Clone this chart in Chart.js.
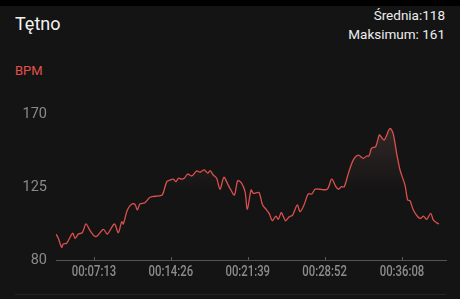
<!DOCTYPE html>
<html>
<head>
<meta charset="utf-8">
<script src="https://cdn.jsdelivr.net/npm/chart.js@4.4.1/dist/chart.umd.min.js"></script>
<style>
  html, body { margin: 0; padding: 0; background: #141414; }
  #wrap { position: relative; width: 460px; height: 299px; background: #141414; overflow: hidden; font-family: Roboto, "Noto Sans", sans-serif; }
  #topbar { position: absolute; left: 0; top: 0; width: 460px; height: 6px; background: #000; }
  #title { position: absolute; left: 15px; top: 13px; color: #f2f2f2; font-size: 18px; }
  #stats { position: absolute; right: 15px; top: 6px; color: #eeeeee; font-size: 13.5px; text-align: right; line-height: 19px; }
  #unit { position: absolute; left: 15px; top: 63px; color: #e0514d; font-size: 13px; }
  #footline { position: absolute; left: 15px; top: 294px; width: 431px; height: 1px; background: #232323; }
  canvas { position: absolute; left: 0; top: 0; }
</style>
</head>
<body>
<div id="wrap">
  <div id="topbar"></div>
  <div id="title">Tętno</div>
  <div id="stats">Średnia:118<br>Maksimum: 161</div>
  <div id="unit">BPM</div>
  <canvas id="hrChart" width="460" height="299"></canvas>
  <div id="footline"></div>
</div>
<script>
// --- Data (time in seconds, heart rate in BPM) ---
const times = [219, 232, 251, 260, 279, 313, 326, 345, 367, 388, 411, 444, 486, 508, 548, 570, 589, 598,
  621, 646, 664, 677, 692, 720, 749, 795, 818, 843, 861, 880, 895, 908, 927, 942, 961, 984, 1012, 1030,
  1054, 1074, 1087, 1105, 1124, 1143, 1165, 1186, 1199, 1224, 1243, 1265, 1284, 1297, 1318, 1331, 1350,
  1364, 1383, 1406, 1421, 1438, 1458, 1471, 1488, 1500, 1513, 1533, 1552, 1578, 1594, 1616, 1640, 1660,
  1678, 1706, 1747, 1772, 1796, 1810, 1828, 1843, 1866, 1894, 1922, 1950, 1969, 1982, 1997, 2020, 2040,
  2050, 2068, 2100, 2118, 2138, 2157, 2185, 2200, 2213, 2232, 2257, 2275, 2288, 2307, 2330, 2344, 2363, 2376];
const bpm = [96, 93.4, 87.8, 89.9, 90.3, 96.5, 93.4, 96, 96.8, 102.3, 98.1, 94.4, 98.9, 96, 102.2, 96.8, 103.6, 102.2,
  110.8, 114.5, 114.3, 110.8, 114.5, 115.3, 118.7, 119.5, 120.1, 128.3, 129.3, 129.8, 128.3, 130.4, 129.8, 130.4,
  133, 131.8, 134.9, 134.1, 135.5, 133.5, 135.1, 132.4, 130.4, 123.6, 131, 126.9, 124.2, 120.1, 128.9, 127.3,
  122.1, 111.3, 123.2, 121.1, 121.5, 121.5, 113.9, 110.8, 108.4, 104.2, 107.1, 105.1, 109.2, 106.7, 104.2,
  106.7, 107.7, 113.9, 109.8, 113.9, 120.7, 120.7, 123.6, 123.6, 123.6, 129.8, 125.2, 123.6, 125.2, 125.2,
  133.4, 141.7, 144.7, 142.7, 144.1, 144.1, 148.9, 149.9, 157.1, 156, 154, 161, 158.1, 145.8, 135.5, 126.2,
  117, 116.6, 110.8, 106.7, 105.7, 107.1, 105.1, 108.8, 104.7, 103, 102.2];

const xTicks = [433, 866, 1299, 1732, 2168];
const yTicks = [80, 125, 170];

const lineColor = '#d9504c';

function fmtTime(s) {
  const h = Math.floor(s / 3600);
  const m = Math.floor((s % 3600) / 60);
  const sec = s % 60;
  return [h, m, sec].map(n => String(n).padStart(2, '0')).join(':');
}

// small tick marks pointing up from the x axis line, plus narrow time labels
const timeAxis = {
  id: 'timeAxis',
  afterDatasetsDraw(chart) {
    const { ctx, chartArea, scales } = chart;
    ctx.save();
    ctx.strokeStyle = '#5a5a5a';
    ctx.lineWidth = 1;
    ctx.fillStyle = '#8c8c8c';
    ctx.font = '500 14.5px Roboto, sans-serif';
    ctx.textAlign = 'center';
    ctx.textBaseline = 'middle';
    xTicks.forEach(t => {
      const px = scales.x.getPixelForValue(t);
      const x = Math.round(px) + 0.5;
      ctx.beginPath();
      ctx.moveTo(x, chartArea.bottom);
      ctx.lineTo(x, chartArea.bottom - 3);
      ctx.stroke();
      // condensed look: squeeze horizontally
      ctx.save();
      ctx.translate(px, chartArea.bottom + 12);
      ctx.scale(0.78, 1);
      ctx.fillText(fmtTime(t), 0, 0);
      ctx.restore();
    });
    ctx.restore();
  }
};

const ctx = document.getElementById('hrChart').getContext('2d');
new Chart(ctx, {
  type: 'line',
  data: {
    datasets: [{
      data: times.map((t, i) => ({ x: t, y: bpm[i] })),
      borderColor: lineColor,
      borderWidth: 1.3,
      pointRadius: 0,
      tension: 0.3,
      fill: 'origin',
      backgroundColor: c => {
        const { chart } = c;
        if (!chart.chartArea) return 'transparent';
        const y = chart.scales.y;
        const g = chart.ctx.createLinearGradient(0, y.getPixelForValue(162), 0, y.getPixelForValue(122));
        g.addColorStop(0, 'rgba(210,150,140,0.16)');
        g.addColorStop(1, 'rgba(210,150,140,0)');
        return g;
      }
    }]
  },
  options: {
    responsive: false,
    animation: false,
    layout: { padding: { top: 114, right: 14, left: 0, bottom: 0 } },
    plugins: { legend: { display: false }, tooltip: { enabled: false } },
    scales: {
      x: {
        type: 'linear',
        min: 219,
        max: 2416,
        afterBuildTicks: s => { s.ticks = xTicks.map(v => ({ value: v })); },
        afterFit: s => { s.height = 39; },
        grid: { display: false, drawTicks: false },
        border: { display: true, color: '#555555', width: 1 },
        ticks: { display: false }
      },
      y: {
        min: 80,
        max: 170,
        afterBuildTicks: s => { s.ticks = yTicks.map(v => ({ value: v })); },
        afterFit: s => { s.width = 56; },
        grid: { display: false, drawTicks: false },
        border: { display: false },
        ticks: {
          padding: 9,
          color: '#8a8a8a',
          font: { family: 'Roboto, sans-serif', size: 14.5 }
        }
      }
    }
  },
  plugins: [timeAxis]
});
</script>
</body>
</html>
